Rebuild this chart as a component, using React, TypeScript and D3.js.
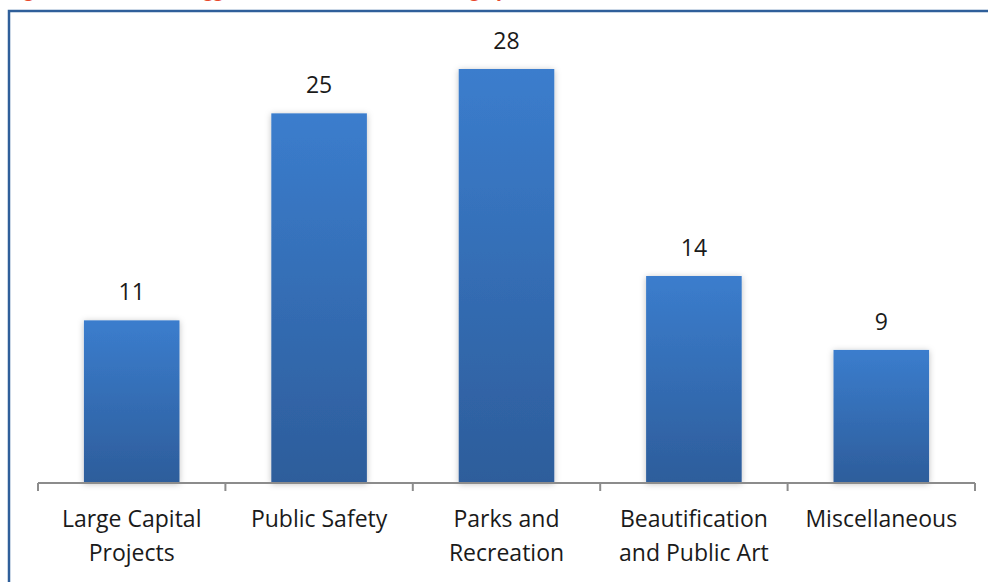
import React from 'react';
import * as d3 from 'd3';

const categories = [
  ['Large Capital', 'Projects'],
  ['Public Safety'],
  ['Parks and', 'Recreation'],
  ['Beautification', 'and Public Art'],
  ['Miscellaneous'],
];
const values = [11, 25, 28, 14, 9];

const W = 988;
const H = 582;

export default function App() {
  const keys = categories.map((c) => c.join(' '));
  const x = d3.scaleBand<string>().domain(keys).range([38, 975]).paddingInner(0).paddingOuter(0);
  const y = d3.scaleLinear().domain([0, 28]).range([483, 69]);
  const barW = x.bandwidth() * 0.51;
  const font = "'Open Sans', 'Noto Sans', sans-serif";

  return (
    <svg width={W} height={H} style={{ position: 'absolute', left: 0, top: 0, background: '#fff' }}>
      <defs>
        <linearGradient id="barGrad" x1="0" y1="0" x2="0" y2="1">
          <stop offset="0%" stopColor="#3b7dcd" />
          <stop offset="100%" stopColor="#2d5d9b" />
        </linearGradient>
        <filter id="shadow" x="-20%" y="-20%" width="140%" height="140%">
          <feDropShadow dx="0" dy="1" stdDeviation="3" floodColor="#000" floodOpacity="0.25" />
        </filter>
      </defs>

      {/* title above the frame, only its descenders show */}
      <text x={10} y={-3} fill="#e8482c" fontFamily={font} fontSize={18}>
        Figure 3: Number of Suggestions Received in Each Category
      </text>

      {/* frame */}
      <rect x={9} y={11} width={W + 20} height={H + 20} fill="none" stroke="#2f5f9a" strokeWidth={2.5} />

      {/* bars */}
      {values.map((v, i) => {
        const cx = x(keys[i])! + x.bandwidth() / 2;
        return (
          <g key={keys[i]}>
            <rect
              x={cx - barW / 2}
              y={y(v)}
              width={barW}
              height={y(0) - y(v)}
              fill="url(#barGrad)"
              filter="url(#shadow)"
            />
            <text x={cx} y={y(v) - 20} textAnchor="middle" fontFamily={font} fontSize={23} fill="#1a1a1a">
              {v}
            </text>
          </g>
        );
      })}

      {/* axis */}
      <line x1={38} x2={975} y1={y(0)} y2={y(0)} stroke="#8c8c8c" strokeWidth={2} />
      {keys.map((k) => (
        <line key={k} x1={x(k)!} x2={x(k)!} y1={y(0)} y2={y(0) + 8} stroke="#8c8c8c" strokeWidth={2} />
      ))}
      <line x1={975} x2={975} y1={y(0)} y2={y(0) + 8} stroke="#8c8c8c" strokeWidth={2} />

      {/* category labels */}
      {categories.map((lines, i) => {
        const cx = x(keys[i])! + x.bandwidth() / 2;
        return (
          <text key={keys[i]} textAnchor="middle" fontFamily={font} fontSize={23} fill="#1a1a1a">
            {lines.map((l, j) => (
              <tspan key={j} x={cx} y={527 + j * 34}>
                {l}
              </tspan>
            ))}
          </text>
        );
      })}
    </svg>
  );
}
